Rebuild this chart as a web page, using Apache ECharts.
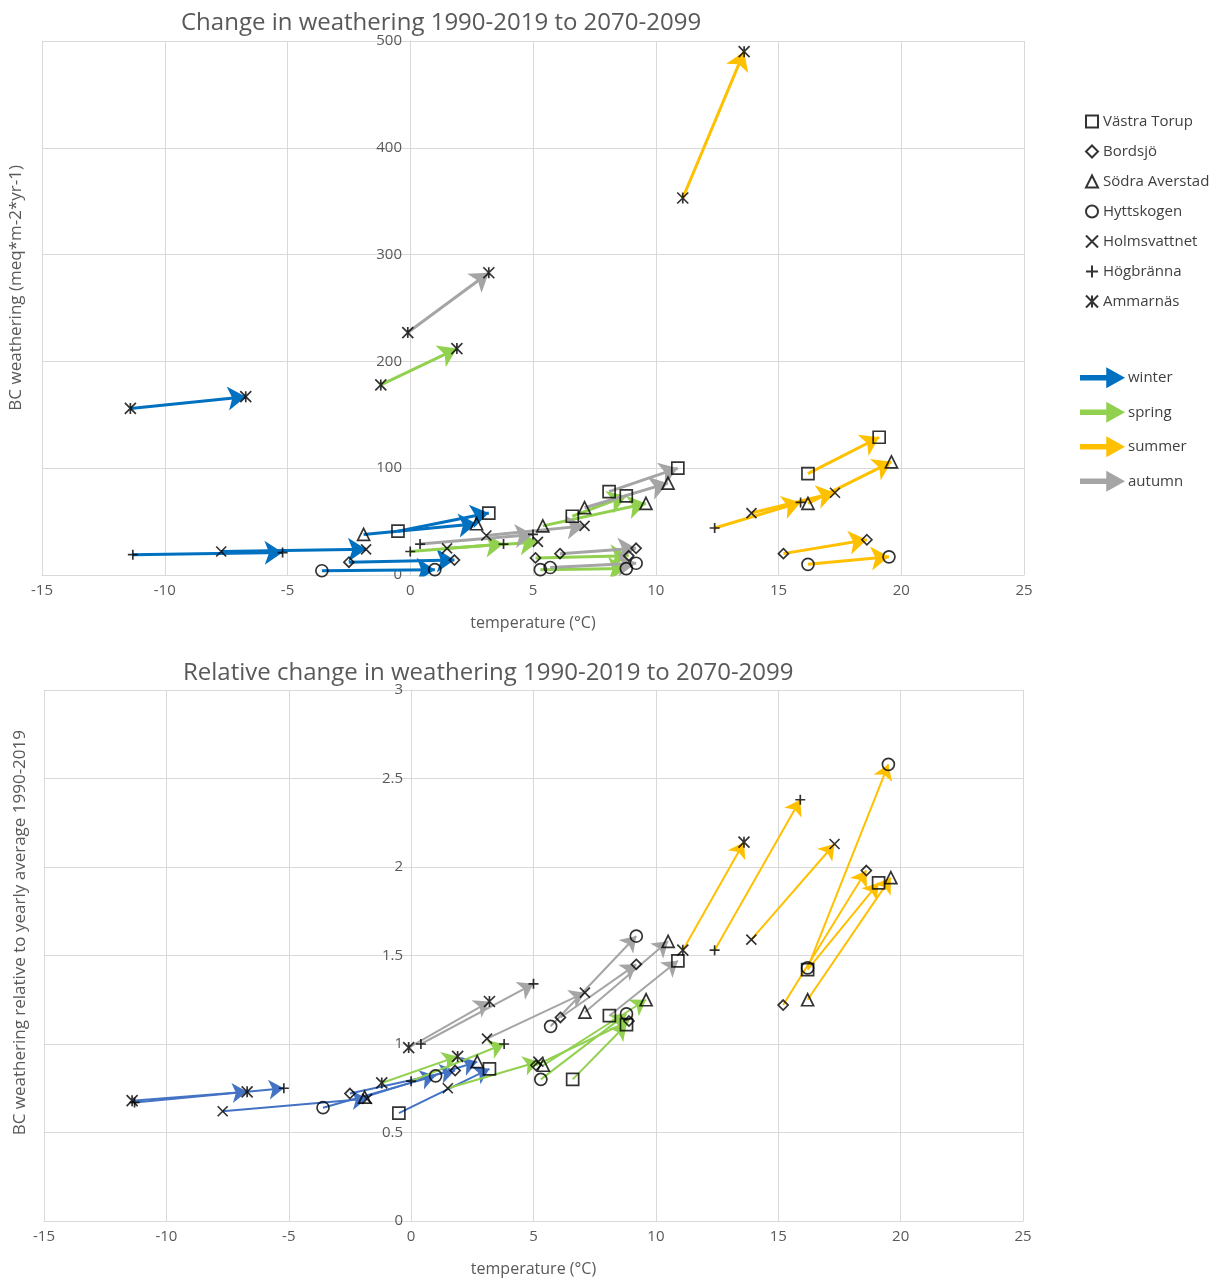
<!DOCTYPE html>
<html>
<head>
<meta charset="utf-8">
<script src="https://cdn.jsdelivr.net/npm/echarts@6/dist/echarts.min.js"></script>
<style>html,body{margin:0;background:#fff}#chart{width:1216px;height:1281px}</style>
</head>
<body>
<div id="chart"></div>
<script>
// seasons order: winter, spring, summer, autumn
var seasons = ['winter', 'spring', 'summer', 'autumn'];
var sites = ['Västra Torup', 'Bordsjö', 'Södra Averstad', 'Hyttskogen', 'Holmsvattnet', 'Högbränna', 'Ammarnäs'];

// temperature 1990-2019 (t1) and 2070-2099 (t2)
var t1 = [
    [-0.5, 6.6, 16.2, 8.1],
    [-2.5, 5.1, 15.2, 6.1],
    [-1.9, 5.4, 16.2, 7.1],
    [-3.6, 5.3, 16.2, 5.7],
    [-7.7, 1.5, 13.9, 3.1],
    [-11.3, 0.0, 12.4, 0.4],
    [-11.4, -1.2, 11.1, -0.1]
];
var t2 = [
    [3.2, 8.8, 19.1, 10.9],
    [1.8, 8.9, 18.6, 9.2],
    [2.7, 9.6, 19.6, 10.5],
    [1.0, 8.8, 19.5, 9.2],
    [-1.8, 5.2, 17.3, 7.1],
    [-5.2, 3.8, 15.9, 5.0],
    [-6.7, 1.9, 13.6, 3.2]
];
// BC weathering meq/m2/yr
var abs1 = [
    [41, 55, 95, 78],
    [12, 16, 20, 20],
    [38, 46, 67, 63],
    [4, 5, 10, 7],
    [22, 25, 58, 37],
    [19, 22, 44, 29],
    [156, 178, 353, 227]
];
var abs2 = [
    [58, 74, 129, 100],
    [14, 18, 33, 25],
    [48, 67, 106, 86],
    [5, 6, 17, 11],
    [24, 31, 77, 46],
    [21, 29, 68, 38],
    [167, 212, 490, 283]
];
// relative to yearly average 1990-2019
var rel1 = [
    [0.61, 0.80, 1.42, 1.16],
    [0.72, 0.88, 1.22, 1.15],
    [0.70, 0.88, 1.25, 1.18],
    [0.64, 0.80, 1.43, 1.10],
    [0.62, 0.75, 1.59, 1.03],
    [0.67, 0.79, 1.53, 1.00],
    [0.68, 0.78, 1.53, 0.98]
];
var rel2 = [
    [0.86, 1.11, 1.91, 1.47],
    [0.85, 1.13, 1.98, 1.45],
    [0.90, 1.25, 1.94, 1.58],
    [0.82, 1.17, 2.58, 1.61],
    [0.69, 0.90, 2.13, 1.29],
    [0.75, 1.00, 2.38, 1.34],
    [0.73, 0.93, 2.14, 1.24]
];

var seasonColorsTop = ['#0070C0', '#92D050', '#FFC000', '#A5A5A5'];
var seasonColorsBot = ['#4472C4', '#92D050', '#FFC000', '#A5A5A5'];
var siteSymbols = [
    'rect', 'diamond', 'triangle', 'circle',
    'path://M0 0L10 10M10 0L0 10',
    'path://M5 0L5 10M0 5L10 5',
    'path://M0 0L10 10M10 0L0 10M5 0L5 10'
];
var siteSizes = [12, 10, 12, 12, 10, 10, 11];
var arrowIcon = 'path://M0 4L15 4L15 0L24 5L15 10L15 6L0 6Z';

var chart = echarts.init(document.getElementById('chart'));
var series = [];

function addChart(gi, v1, v2, colors) {
    seasons.forEach(function (s, si) {
        var d = [];
        for (var k = 0; k < sites.length; k++) {
            d.push({coords: [[t1[k][si], v1[k][si]], [t2[k][si], v2[k][si]]]});
        }
        series.push({
            name: s, type: 'lines', coordinateSystem: 'cartesian2d',
            xAxisIndex: gi, yAxisIndex: gi,
            symbol: ['none', 'arrow'], symbolSize: gi === 0 ? 18 : 15,
            lineStyle: {color: colors[si], width: gi === 0 ? 3 : 2, opacity: 1, curveness: 0},
            itemStyle: {color: colors[si]},
            data: d, z: 2
        });
    });
    sites.forEach(function (name, k) {
        var d = [];
        for (var si = 0; si < 4; si++) {
            d.push([t1[k][si], v1[k][si]]);
            d.push([t2[k][si], v2[k][si]]);
        }
        series.push({
            name: name, type: 'scatter', xAxisIndex: gi, yAxisIndex: gi,
            symbol: siteSymbols[k], symbolSize: siteSizes[k],
            itemStyle: {color: 'rgba(0,0,0,0)', borderColor: '#000', borderWidth: 1.7},
            data: d, z: 5
        });
    });
}
addChart(0, abs1, abs2, seasonColorsTop);
addChart(1, rel1, rel2, seasonColorsBot);

var axisText = {color: '#595959', fontSize: 15, fontFamily: 'Open Sans'};
var gridLine = {lineStyle: {color: '#d9d9d9'}};
function xAx(gi) {
    return {
        gridIndex: gi, type: 'value', min: -15, max: 25, interval: 5,
        name: 'temperature (°C)', nameLocation: 'middle', nameGap: 40,
        nameTextStyle: {color: '#595959', fontSize: 16, fontFamily: 'Open Sans'},
        axisLine: {onZero: false, lineStyle: {color: '#d9d9d9'}},
        axisTick: {show: false}, axisLabel: axisText, splitLine: gridLine
    };
}

chart.setOption({
    animation: false,
    title: [
        {text: 'Change in weathering 1990-2019 to 2070-2099', left: 176, top: 6,
         textStyle: {color: '#595959', fontSize: 24, fontWeight: 'normal', fontFamily: 'Open Sans'}},
        {text: 'Relative change in weathering 1990-2019 to 2070-2099', left: 178, top: 656,
         textStyle: {color: '#595959', fontSize: 24, fontWeight: 'normal', fontFamily: 'Open Sans'}}
    ],
    grid: [
        {left: 42, right: 192, top: 41, bottom: 706},
        {left: 44, right: 193, top: 690, bottom: 60}
    ],
    xAxis: [xAx(0), xAx(1)],
    yAxis: [
        {gridIndex: 0, type: 'value', min: 0, max: 500, interval: 100, offset: -368,
         axisLine: {show: true, lineStyle: {color: '#d9d9d9'}},
         axisTick: {show: false}, axisLabel: axisText, splitLine: gridLine},
        {gridIndex: 1, type: 'value', min: 0, max: 3, interval: 0.5, offset: -367,
         axisLine: {show: true, lineStyle: {color: '#d9d9d9'}},
         axisTick: {show: false}, axisLabel: axisText, splitLine: gridLine}
    ],
    legend: [
        {data: sites, orient: 'vertical', left: 1080, top: 109, itemGap: 15,
         itemWidth: 12, itemHeight: 12,
         textStyle: {color: '#404040', fontSize: 15, fontFamily: 'Open Sans'}},
        {data: seasons.map(function (s) { return {name: s, icon: arrowIcon}; }),
         orient: 'vertical', left: 1075, top: 363, itemGap: 15, itemWidth: 42, itemHeight: 18,
         textStyle: {color: '#404040', fontSize: 15, fontFamily: 'Open Sans'}}
    ],
    graphic: [
        {type: 'text', left: 8, top: 165, rotation: Math.PI / 2,
         style: {text: 'BC weathering (meq*m-2*yr-1)', fill: '#595959', fontSize: 17, fontFamily: 'Open Sans'}},
        {type: 'text', left: 12, top: 730, rotation: Math.PI / 2,
         style: {text: 'BC weathering relative to yearly average 1990-2019', fill: '#595959', fontSize: 17, fontFamily: 'Open Sans'}}
    ],
    series: series
});
</script>
</body>
</html>
